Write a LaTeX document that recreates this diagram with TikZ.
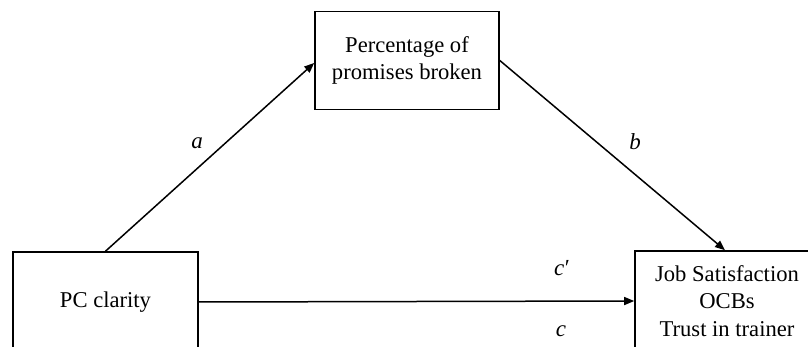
\documentclass[tikz,border=0pt]{standalone}
\usepackage{fontspec}
\setmainfont{Liberation Serif}
\usetikzlibrary{arrows.meta}
\begin{document}
\begin{tikzpicture}[x=1pt,y=-1pt,
  box/.style={draw,line width=1.6pt,minimum width=184pt,minimum height=98pt,align=center,inner sep=0pt,
    font=\fontsize{22.6}{27.5}\selectfont},
  conn/.style={line width=1.5pt,-{Triangle[length=10pt,width=8pt]}},
  lab/.style={font=\fontsize{23}{27.5}\selectfont\itshape}]
\useasboundingbox (0,0) rectangle (808,347);
\node[box] (med) at (407,60.5) {Percentage of\\promises broken};
\node[box,minimum width=185pt,minimum height=100pt] (pc) at (105.5,302) {PC clarity};
\node[box,minimum height=100pt] (out) at (727,301) {Job Satisfaction\\OCBs\\Trust in trainer};
\draw[conn] (pc.north) -- ([yshift=-2.5pt]med.west);
\draw[conn] (med.east) -- ([xshift=-2pt]out.north);
\draw[conn] (pc.east) -- (out.west);
\node[lab] (la) at (197,143) {a};
\node[lab] (lb) at (635,142) {b};
\node[lab] (lcp) at (562,268) {c\kern0.5pt\upshape′};
\node[lab] (lc) at (561,331) {c};
\end{tikzpicture}
\end{document}
